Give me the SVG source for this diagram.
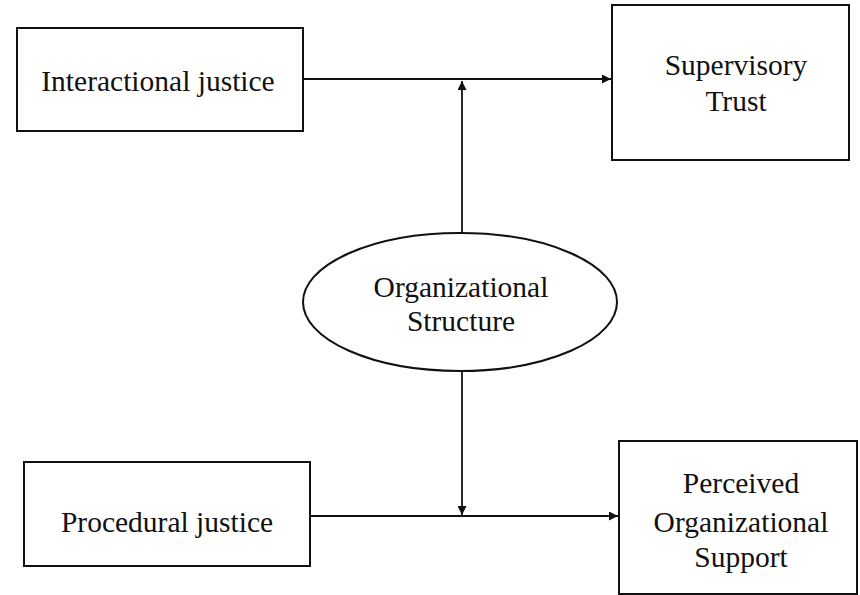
<svg xmlns="http://www.w3.org/2000/svg" width="860" height="595" viewBox="0 0 860 595">
<defs>
<style>
.box{fill:#fff;stroke:#111;stroke-width:2}
.lbl{font-family:"Liberation Serif","Times New Roman",serif;font-size:29.5px;fill:#111;text-anchor:middle}
.conn{stroke:#111;stroke-width:1.8;fill:none}
</style>
<marker id="ah" viewBox="0 0 10 10" refX="10" refY="5" markerWidth="10" markerHeight="9" markerUnits="userSpaceOnUse" orient="auto">
<path d="M0,0 L10,5 L0,10 Z" fill="#111"/>
</marker>
</defs>
<rect width="860" height="595" fill="#fff"/>
<g id="connectors">
<line class="conn" x1="303" y1="79" x2="611" y2="79" marker-end="url(#ah)"/>
<line class="conn" x1="462" y1="233" x2="462" y2="81" marker-end="url(#ah)"/>
<line class="conn" x1="310" y1="516" x2="618" y2="516" marker-end="url(#ah)"/>
<line class="conn" x1="462" y1="372" x2="462" y2="515" marker-end="url(#ah)"/>
</g>
<g id="interactional">
<rect class="box" x="17" y="28" width="286" height="103"/>
<text class="lbl" x="158" y="91">Interactional justice</text>
</g>
<g id="supervisory">
<rect class="box" x="612" y="5" width="237" height="155"/>
<text class="lbl" x="736" y="75">Supervisory</text>
<text class="lbl" x="736" y="111">Trust</text>
</g>
<g id="orgstructure">
<ellipse class="box" cx="460" cy="302" rx="157" ry="69"/>
<text class="lbl" x="461" y="297">Organizational</text>
<text class="lbl" x="461" y="331">Structure</text>
</g>
<g id="procedural">
<rect class="box" x="24" y="462" width="286" height="104"/>
<text class="lbl" x="167" y="532">Procedural justice</text>
</g>
<g id="pos">
<rect class="box" x="619" y="441" width="238" height="153"/>
<text class="lbl" x="741" y="493">Perceived</text>
<text class="lbl" x="741" y="532">Organizational</text>
<text class="lbl" x="741" y="567">Support</text>
</g>
</svg>
